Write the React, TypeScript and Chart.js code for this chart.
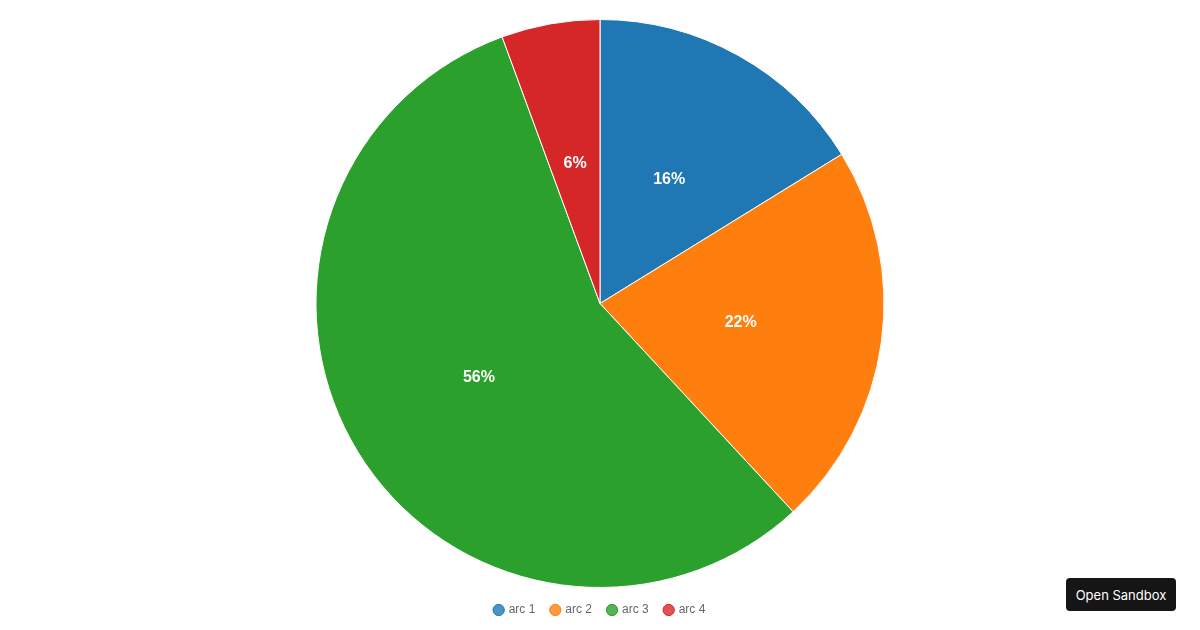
import React, { useEffect, useRef } from "react";
import { Chart, registerables } from "chart.js";

Chart.register(...registerables);

const categories = ["arc 1", "arc 2", "arc 3", "arc 4"];
const values = [16.2, 21.9, 56.3, 5.6];
const colors = ["#1f77b4", "#ff7f0e", "#2ca02c", "#d62728"];
const legendFills = ["rgba(31,119,180,0.8)", "rgba(255,127,14,0.8)", "rgba(44,160,44,0.8)", "rgba(214,39,40,0.8)"];

const percentLabels = {
  id: "percentLabels",
  afterDatasetsDraw(chart: any) {
    const ctx = chart.ctx;
    const meta = chart.getDatasetMeta(0);
    const data = chart.data.datasets[0].data as number[];
    const total = data.reduce((a, b) => a + b, 0);
    ctx.save();
    ctx.fillStyle = "#ffffff";
    ctx.font = "bold 16px 'Liberation Sans', Arial, sans-serif";
    ctx.textAlign = "center";
    ctx.textBaseline = "middle";
    meta.data.forEach((arc: any, i: number) => {
      const p = arc.getProps(["x", "y", "startAngle", "endAngle", "outerRadius"], true);
      const mid = (p.startAngle + p.endAngle) / 2;
      const r = p.outerRadius / 2;
      const x = p.x + Math.cos(mid) * r;
      const y = p.y + Math.sin(mid) * r;
      ctx.fillText(Math.round((data[i] / total) * 100) + "%", x, y);
    });
    ctx.restore();
  },
};

export default function App() {
  const ref = useRef<HTMLCanvasElement>(null);
  useEffect(() => {
    document.body.style.margin = "0";
    const chart = new Chart(ref.current!, {
      type: "pie",
      data: {
        labels: categories,
        datasets: [
          {
            data: values,
            backgroundColor: colors,
            borderColor: "#ffffff",
            borderWidth: 1,
          },
        ],
      },
      options: {
        animation: false,
        responsive: false,
        layout: { padding: { top: 19, bottom: 4, left: 0, right: 0 } },
        plugins: {
          tooltip: { enabled: false },
          legend: {
            position: "bottom",
            labels: {
              usePointStyle: true,
              pointStyle: "circle",
              boxWidth: 8,
              boxHeight: 8,
              padding: 16,
              color: "#666666",
              font: { size: 12, family: "'Liberation Sans', Arial, sans-serif" },
              generateLabels: () =>
                categories.map((c, i) => ({
                  text: c,
                  fillStyle: legendFills[i],
                  strokeStyle: colors[i],
                  lineWidth: 1,
                  pointStyle: "circle",
                  hidden: false,
                  index: i,
                  datasetIndex: 0,
                  fontColor: "#666666",
                })),
            },
          },
        },
      },
      plugins: [percentLabels],
    });
    return () => chart.destroy();
  }, []);
  return (
    <div style={{ position: "relative", width: 1200, height: 630 }}>
      <canvas ref={ref} width={1200} height={630} style={{ display: "block" }} />
      <div
        style={{
          position: "absolute",
          left: 1066,
          top: 578,
          width: 110,
          height: 33,
          background: "#151515",
          borderRadius: 4,
          color: "#ffffff",
          fontFamily: "Inter, 'Liberation Sans', Arial, sans-serif",
          fontSize: 13,
          display: "flex",
          alignItems: "center",
          justifyContent: "center",
        }}
      >
        Open Sandbox
      </div>
    </div>
  );
}
